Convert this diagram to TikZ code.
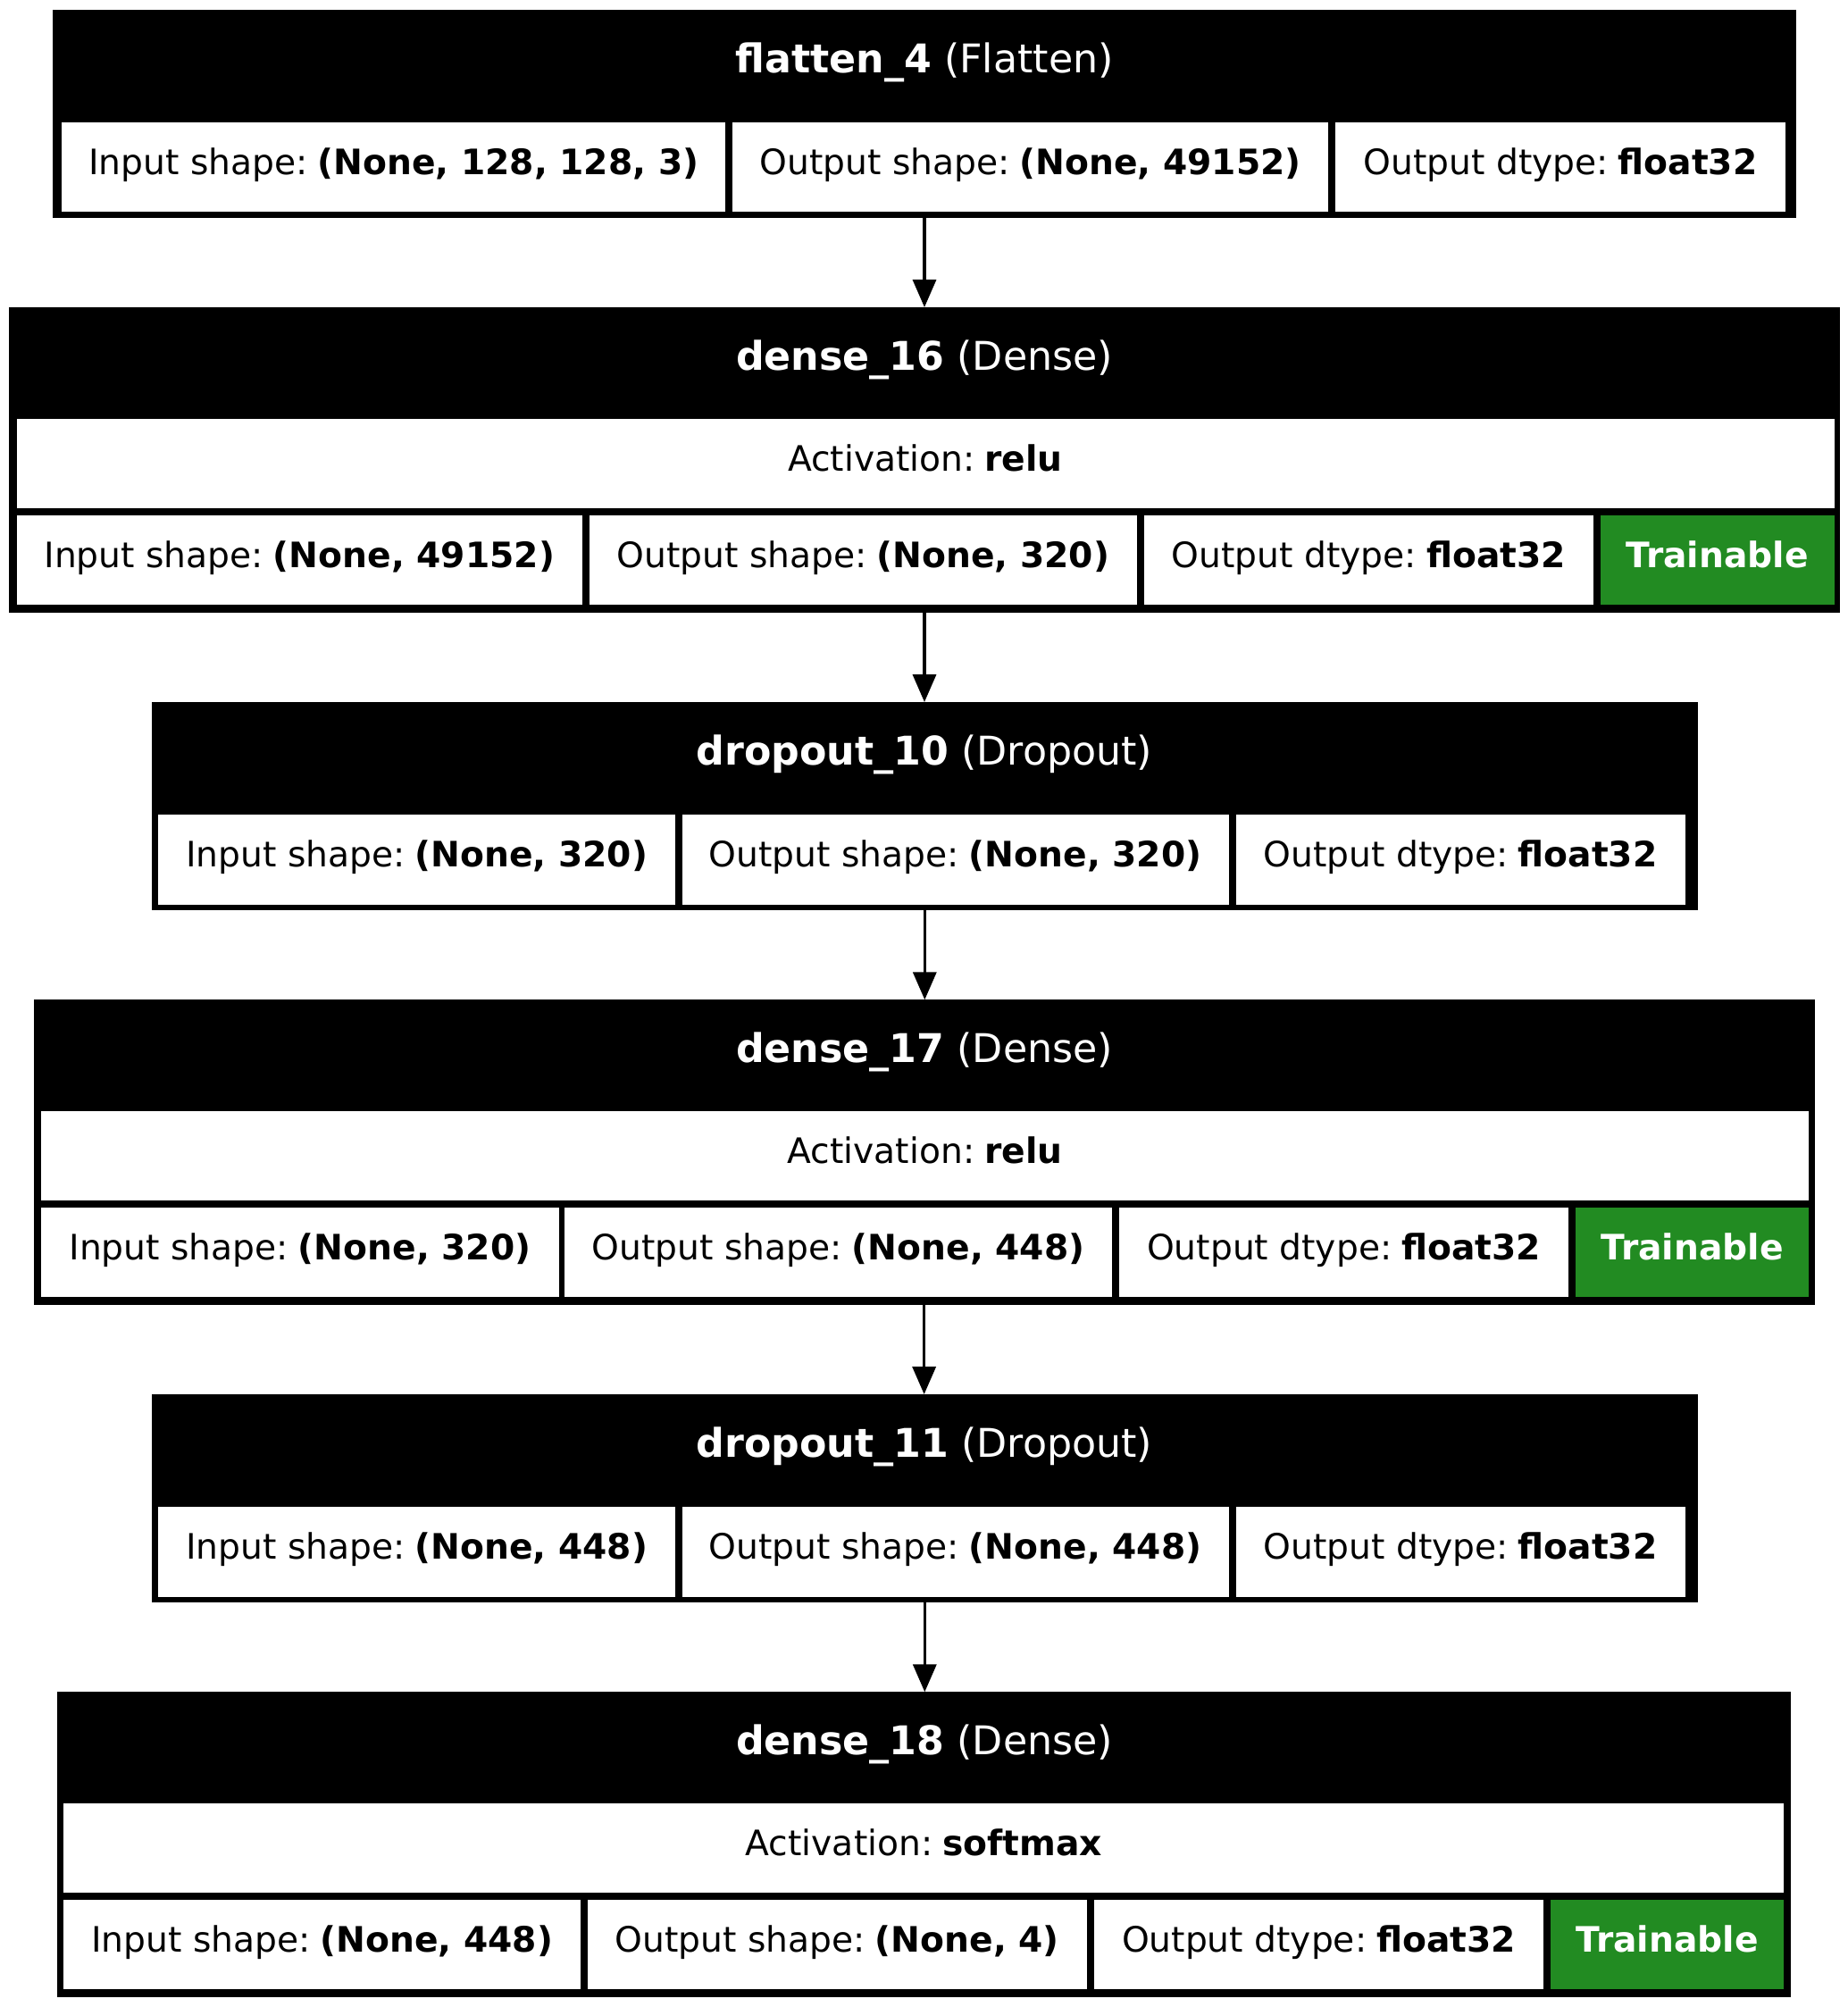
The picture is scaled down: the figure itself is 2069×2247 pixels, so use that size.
\documentclass[tikz,border=0pt]{standalone}
\usepackage{fontspec}
\setmainfont{DejaVu Sans}
\usetikzlibrary{fit,arrows.meta}
\definecolor{trainGreen}{RGB}{34,139,34}
\tikzset{
  outerbox/.style={fill=black, draw=none, inner sep=0pt, outer sep=0pt},
  whitecell/.style={fill=white, draw=none, inner sep=0pt, outer sep=0pt},
  greencell/.style={fill=trainGreen, draw=none, inner sep=0pt, outer sep=0pt},
  celltext/.style={font=\fontsize{39.2}{46}\selectfont, inner sep=0pt, text=black},
  headtext/.style={font=\fontsize{44.3}{52}\selectfont, inner sep=0pt, text=white},
  flowarrow/.style={line width=3.5pt, -{Triangle[length=31pt,width=26pt]}}
}
\newcommand{\kvsp}{\hspace{0.28em}}
\newcommand{\cellbox}[7]{%
  \node[#6, fit={(#2,#3) (#4,#5)}] (#1) {};
  \node[celltext, anchor=base] (#1t) at ([yshift=-8pt]#1.center) {#7};
}
\begin{document}
\begin{tikzpicture}[x=1pt, y=-1pt]
\fill[white] (0,0) rectangle (2069,2247);
\useasboundingbox (0,0) rectangle (2069,2247);

% ---- flatten_4
\node[outerbox, fit={(59,11) (2011,244)}] (flatten) {};
\node[headtext, anchor=base] (flattenT) at (1035,81.5) {\textbf{flatten\_4} (Flatten)};
\cellbox{f1}{69.3}{137}{812}{237}{whitecell}{Input shape:\kvsp\textbf{(None, 128, 128, 3)}}
\cellbox{f2}{820}{137}{1487}{237}{whitecell}{Output shape:\kvsp\textbf{(None, 49152)}}
\cellbox{f3}{1495}{137}{1999}{237}{whitecell}{Output dtype:\kvsp\textbf{float32}}

% ---- dense_16
\node[outerbox, fit={(10,344) (2060,686)}] (dense16) {};
\node[headtext, anchor=base] (dense16T) at (1035,414) {\textbf{dense\_16} (Dense)};
\cellbox{da}{18.5}{469}{2053.5}{569}{whitecell}{Activation:\kvsp\textbf{relu}}
\cellbox{d1}{18.5}{577}{652}{677}{whitecell}{Input shape:\kvsp\textbf{(None, 49152)}}
\cellbox{d2}{660}{577}{1272.6}{677}{whitecell}{Output shape:\kvsp\textbf{(None, 320)}}
\cellbox{d3}{1280.5}{577}{1784}{677}{whitecell}{Output dtype:\kvsp\textbf{float32}}
\cellbox{d4}{1792}{577}{2053.5}{677}{greencell}{\color{white}\textbf{Trainable}}

% ---- dropout_10
\node[outerbox, fit={(169.6,786) (1901,1019)}] (drop10) {};
\node[headtext, anchor=base] (drop10T) at (1035,856.5) {\textbf{dropout\_10} (Dropout)};
\cellbox{p1}{177}{912.3}{756.4}{1012.7}{whitecell}{Input shape:\kvsp\textbf{(None, 320)}}
\cellbox{p2}{763.7}{912.3}{1375.6}{1012.7}{whitecell}{Output shape:\kvsp\textbf{(None, 320)}}
\cellbox{p3}{1383.5}{912.3}{1886.5}{1012.7}{whitecell}{Output dtype:\kvsp\textbf{float32}}

% ---- dense_17
\node[outerbox, fit={(37.6,1119.3) (2031.7,1460.7)}] (dense17) {};
\node[headtext, anchor=base] (dense17T) at (1035,1189.3) {\textbf{dense\_17} (Dense)};
\cellbox{ea}{46.2}{1244.3}{2025}{1344.3}{whitecell}{Activation:\kvsp\textbf{relu}}
\cellbox{e1}{46.2}{1352.3}{625.7}{1452.3}{whitecell}{Input shape:\kvsp\textbf{(None, 320)}}
\cellbox{e2}{632.3}{1352.3}{1245}{1452.3}{whitecell}{Output shape:\kvsp\textbf{(None, 448)}}
\cellbox{e3}{1252.8}{1352.3}{1756.4}{1452.3}{whitecell}{Output dtype:\kvsp\textbf{float32}}
\cellbox{e4}{1764.4}{1352.3}{2025}{1452.3}{greencell}{\color{white}\textbf{Trainable}}

% ---- dropout_11
\node[outerbox, fit={(169.6,1561) (1901,1794)}] (drop11) {};
\node[headtext, anchor=base] (drop11T) at (1035,1631.5) {\textbf{dropout\_11} (Dropout)};
\cellbox{q1}{177}{1687}{756.4}{1787.7}{whitecell}{Input shape:\kvsp\textbf{(None, 448)}}
\cellbox{q2}{763.7}{1687}{1375.6}{1787.7}{whitecell}{Output shape:\kvsp\textbf{(None, 448)}}
\cellbox{q3}{1383.5}{1687}{1886.5}{1787.7}{whitecell}{Output dtype:\kvsp\textbf{float32}}

% ---- dense_18
\node[outerbox, fit={(64,1894.3) (2005.3,2235.7)}] (dense18) {};
\node[headtext, anchor=base] (dense18T) at (1035,1964.3) {\textbf{dense\_18} (Dense)};
\cellbox{ga}{71.3}{2019.3}{1997.4}{2119.3}{whitecell}{Activation:\kvsp\textbf{softmax}}
\cellbox{g1}{71.3}{2127.3}{650}{2227.3}{whitecell}{Input shape:\kvsp\textbf{(None, 448)}}
\cellbox{g2}{658}{2127.3}{1216.5}{2227.3}{whitecell}{Output shape:\kvsp\textbf{(None, 4)}}
\cellbox{g3}{1225}{2127.3}{1728}{2227.3}{whitecell}{Output dtype:\kvsp\textbf{float32}}
\cellbox{g4}{1736}{2127.3}{1997.4}{2227.3}{greencell}{\color{white}\textbf{Trainable}}

% ---- connectors
\draw[flowarrow] (flatten.south) -- (flatten.south |- dense16.north);
\draw[flowarrow] (dense16.south) -- (dense16.south |- drop10.north);
\draw[flowarrow] (drop10.south) -- (drop10.south |- dense17.north);
\draw[flowarrow] (dense17.south) -- (dense17.south |- drop11.north);
\draw[flowarrow] (drop11.south) -- (drop11.south |- dense18.north);
\end{tikzpicture}
\end{document}
